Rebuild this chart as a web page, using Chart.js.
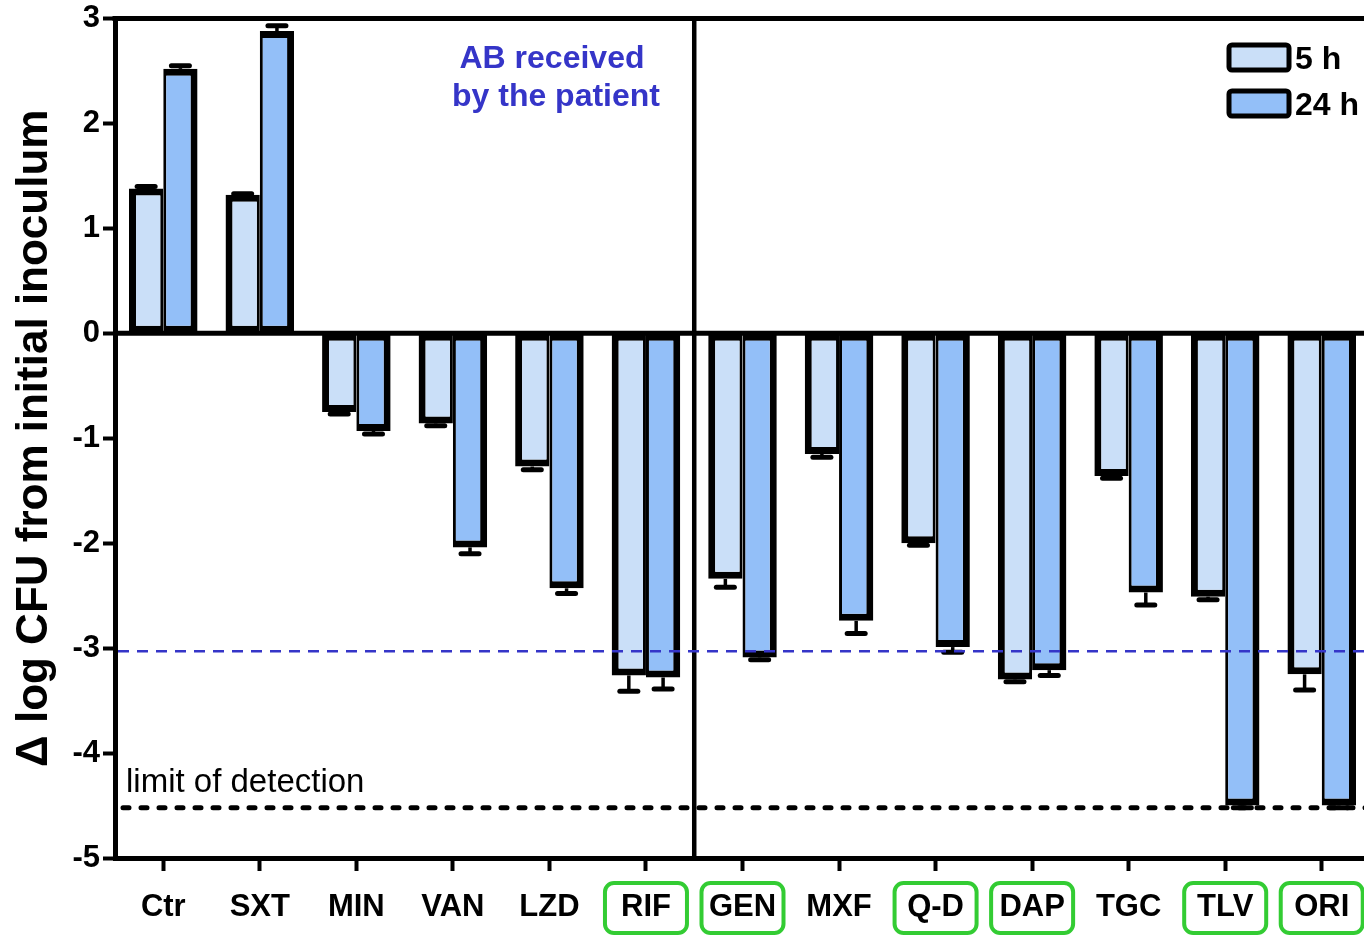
<!DOCTYPE html>
<html lang="en">
<head>
<meta charset="UTF-8">
<title>Δ log CFU from initial inoculum</title>
<script src="https://cdn.jsdelivr.net/npm/chart.js"></script>
<style>
    html, body { margin: 0; padding: 0; background: #fff; overflow: hidden; }
    .wrap { position: relative; width: 1372px; height: 935px; }
</style>
</head>
<body>
<div class="wrap"><canvas id="grafico"></canvas></div>
<script>
    // dados
    const categorias = ['Ctr', 'SXT', 'MIN', 'VAN', 'LZD', 'RIF', 'GEN', 'MXF', 'Q-D', 'DAP', 'TGC', 'TLV', 'ORI'];
    const valores5h  = [1.38, 1.32, -0.75, -0.86, -1.27, -3.26, -2.34, -1.15, -2.00, -3.30, -1.36, -2.51, -3.25];
    const erros5h    = [0.02, 0.01, 0.02, 0.02, 0.03, 0.15, 0.08, 0.03, 0.02, 0.02, 0.02, 0.03, 0.15];
    const valores24h = [2.52, 2.88, -0.93, -2.04, -2.43, -3.28, -3.09, -2.74, -2.99, -3.21, -2.47, -4.50, -4.50];
    const erros24h   = [0.03, 0.05, 0.03, 0.06, 0.05, 0.11, 0.02, 0.12, 0.05, 0.05, 0.12, 0.02, 0.02];
    const recebidos  = ['RIF', 'GEN', 'Q-D', 'DAP', 'TLV', 'ORI'];
    const linhaAzul = -3.03;
    const limiteDeteccao = -4.52;

    const FONTE = "'Liberation Sans', Arial, sans-serif";
    const COR_5H = '#cadff8';
    const COR_24H = '#93bff8';

    const desenhos = {
        id: 'desenhos',
        afterDatasetsDraw(chart) {
            const { ctx, chartArea: a, scales: { x, y } } = chart;
            ctx.save();
            ctx.strokeStyle = '#000';

            // barras de erro (so para fora)
            [erros5h, erros24h].forEach((errs, d) => {
                const vals = chart.data.datasets[d].data;
                chart.getDatasetMeta(d).data.forEach((bar, i) => {
                    const v = vals[i];
                    const fim = y.getPixelForValue(v + Math.sign(v) * errs[i]);
                    ctx.lineCap = 'butt';
                    ctx.lineWidth = 3.5;
                    ctx.beginPath(); ctx.moveTo(bar.x, bar.y); ctx.lineTo(bar.x, fim); ctx.stroke();
                    ctx.lineCap = 'round';
                    ctx.lineWidth = 5;
                    ctx.beginPath(); ctx.moveTo(bar.x - 9, fim); ctx.lineTo(bar.x + 9, fim); ctx.stroke();
                });
            });

            // linha do zero e borda de cima
            ctx.lineCap = 'butt';
            ctx.lineWidth = 5;
            const y0 = y.getPixelForValue(0);
            ctx.beginPath(); ctx.moveTo(a.left, y0); ctx.lineTo(a.right, y0); ctx.stroke();
            ctx.beginPath(); ctx.moveTo(a.left - 2.5, a.top); ctx.lineTo(a.right, a.top); ctx.stroke();

            // separador entre RIF e GEN
            const xs = (x.getPixelForValue(5) + x.getPixelForValue(6)) / 2;
            ctx.lineWidth = 4.5;
            ctx.beginPath(); ctx.moveTo(xs, a.top); ctx.lineTo(xs, a.bottom); ctx.stroke();

            // linha azul tracejada
            const yb = y.getPixelForValue(linhaAzul);
            ctx.strokeStyle = '#3535c8';
            ctx.lineWidth = 2.5;
            ctx.setLineDash([11, 8]);
            ctx.beginPath(); ctx.moveTo(a.left + 3, yb); ctx.lineTo(a.right, yb); ctx.stroke();

            // limite de deteccao
            const yl = y.getPixelForValue(limiteDeteccao);
            ctx.strokeStyle = '#000';
            ctx.lineWidth = 5;
            ctx.lineCap = 'round';
            ctx.setLineDash([6, 12]);
            ctx.beginPath(); ctx.moveTo(a.left + 8, yl); ctx.lineTo(a.right, yl); ctx.stroke();
            ctx.setLineDash([]);

            ctx.fillStyle = '#000';
            ctx.font = '33px ' + FONTE;
            ctx.textAlign = 'left';
            ctx.textBaseline = 'alphabetic';
            ctx.fillText('limit of detection', a.left + 11, yl - 16);

            // texto azul
            ctx.fillStyle = '#3535c8';
            ctx.font = 'bold 32px ' + FONTE;
            ctx.textAlign = 'center';
            ctx.fillText('AB received', 552, a.top + 49);
            ctx.fillText('by the patient', 556, a.top + 87);

            // legenda
            [['5 h', COR_5H, 45], ['24 h', COR_24H, 91]].forEach(([txt, cor, topo]) => {
                ctx.beginPath();
                ctx.roundRect(1229, topo, 60, 25, 3);
                ctx.fillStyle = cor;
                ctx.fill();
                ctx.lineWidth = 5;
                ctx.strokeStyle = '#000';
                ctx.stroke();
                ctx.fillStyle = '#000';
                ctx.textAlign = 'left';
                ctx.fillText(txt, 1295, topo + 24);
            });

            // caixas verdes nos rotulos
            ctx.strokeStyle = '#33cc33';
            ctx.lineWidth = 4;
            recebidos.forEach(nome => {
                const cx = x.getPixelForValue(categorias.indexOf(nome));
                ctx.beginPath();
                ctx.roundRect(cx - 41, a.bottom + 25, 82, 50, 9);
                ctx.stroke();
            });
            ctx.restore();
        }
    };

    new Chart(document.getElementById('grafico'), {
        type: 'bar',
        data: {
            labels: categorias,
            datasets: [
                {
                    label: '5 h',
                    data: valores5h,
                    backgroundColor: COR_5H,
                    borderColor: '#000',
                    borderWidth: { top: 7, bottom: 7, left: 7, right: 3 },
                    borderSkipped: false
                },
                {
                    label: '24 h',
                    data: valores24h,
                    backgroundColor: COR_24H,
                    borderColor: '#000',
                    borderWidth: { top: 7, bottom: 7, left: 3, right: 7 },
                    borderSkipped: false
                }
            ]
        },
        options: {
            responsive: true,
            maintainAspectRatio: false,
            animation: false,
            datasets: { bar: { categoryPercentage: 0.71, barPercentage: 1.0 } },
            layout: { padding: { top: 17, right: 2, left: 0, bottom: 0 } },
            plugins: {
                legend: { display: false },
                tooltip: { enabled: false }
            },
            scales: {
                x: {
                    grid: { display: true, drawOnChartArea: false, offset: false, tickLength: 13, tickWidth: 4, tickColor: '#000' },
                    border: { display: true, color: '#000', width: 5 },
                    ticks: { color: '#000', font: { family: FONTE, size: 31, weight: 'bold' }, padding: 18, maxRotation: 0, autoSkip: false },
                    afterFit: s => { s.height = 77; }
                },
                y: {
                    min: -5,
                    max: 3,
                    grid: { drawOnChartArea: false, tickLength: 12, tickWidth: 4, tickColor: '#000' },
                    border: { display: true, color: '#000', width: 5 },
                    ticks: { stepSize: 1, color: '#000', font: { family: FONTE, size: 31, weight: 'bold', lineHeight: 1 }, padding: 3 },
                    title: {
                        display: true,
                        text: 'Δ log CFU from initial inoculum',
                        color: '#000',
                        font: { family: FONTE, size: 44, weight: 'bold' },
                        padding: { top: 8, bottom: 0 }
                    },
                    afterFit: s => { s.width = 115; }
                }
            }
        },
        plugins: [desenhos]
    });
</script>
</body>
</html>
